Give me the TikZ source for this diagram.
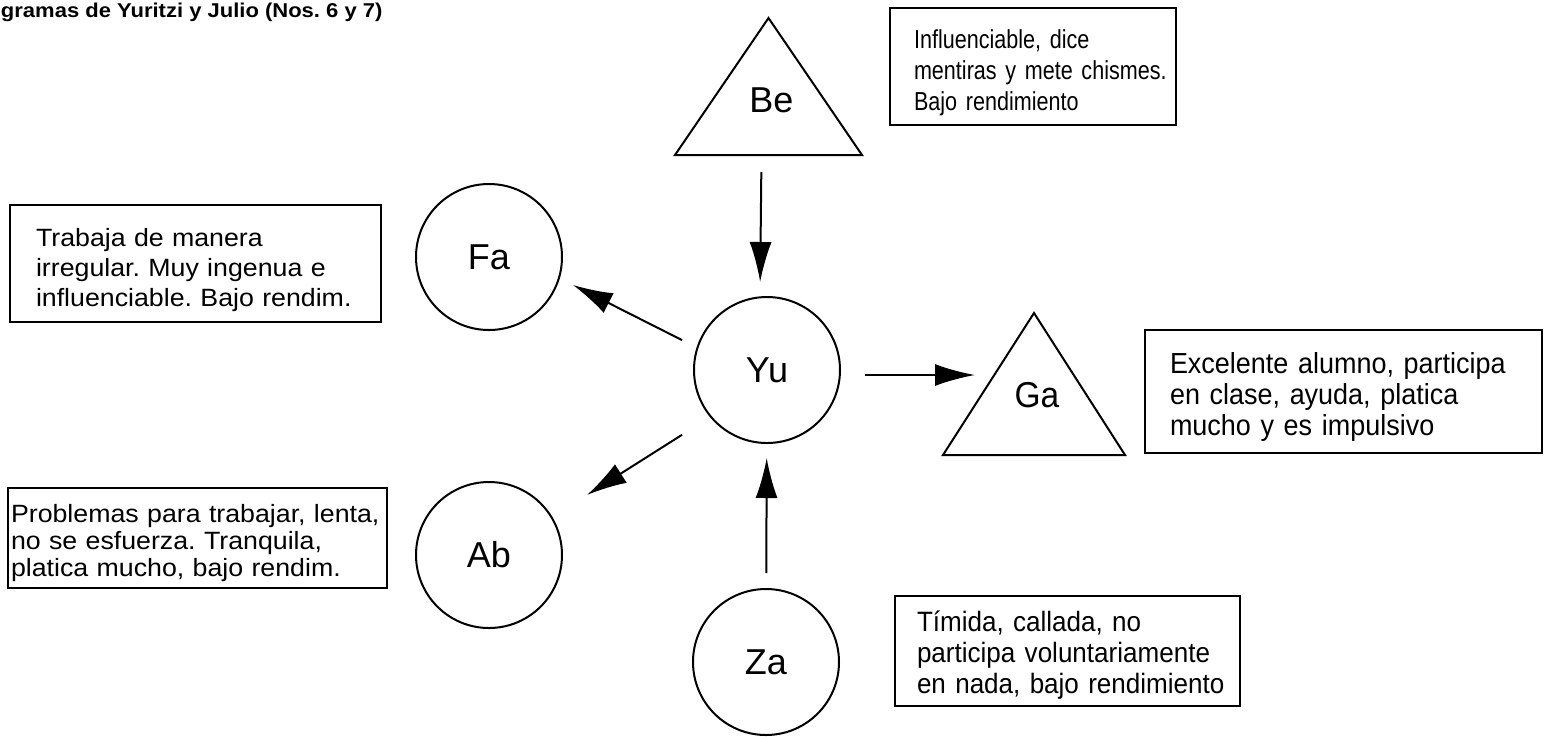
\documentclass[tikz,border=0pt]{standalone}
\usepackage{fontspec}
\setmainfont{Liberation Sans}
\newfontfamily\narrowsans[FakeStretch=0.83]{Liberation Sans}
\newfontfamily\widesans[FakeStretch=1.07]{Liberation Sans}
\newfontfamily\tallsans[FakeStretch=0.93]{Liberation Sans}
\newfontfamily\titlesans[FakeStretch=1.1]{Liberation Sans}
\usetikzlibrary{arrows.meta}
\newcommand\noteline[1]{\mbox{#1}}

\begin{document}
\frenchspacing
\begin{tikzpicture}[x=0.5pt,y=-0.5pt,
  every node/.style={inner sep=0pt, outer sep=0pt},
  person/.style={circle, draw, line width=1pt, minimum size=73pt,
    font=\fontsize{18pt}{20pt}\selectfont},
  tribox/.style={rectangle, draw=none},
  trilabel/.style={font=\fontsize{18pt}{20pt}\selectfont},
  outline/.style={line width=1pt, line join=miter},
  note/.style={draw, line width=1pt, anchor=north west, align=left,
    inner ysep=0pt},
  arr/.style={line width=1pt, -{Latex[length=20pt,width=11pt]}},
]
\useasboundingbox (0,0) rectangle (1544,736);

% title
\node[anchor=west, font=\titlesans\bfseries\fontsize{10pt}{12pt}\selectfont]
  (title) at (1,12) {gramas de Yuritzi y Julio (Nos. 6 y 7)};

% circles
\node[person] (yu) at (767,370) {Yu};
\node[person] (fa) at (489,257) {Fa};
\node[person] (ab) at (489,555) {Ab};
\node[person] (za) at (766,662) {Za};

% triangles
\node[tribox, minimum width=93.5pt, minimum height=68.5pt] (be) at (768.5,86.5) {};
\draw[outline] (be.north) -- (be.south west) -- (be.south east) -- cycle;
\node[trilabel] (belabel) at ([xshift=1.5pt,yshift=-6.75pt]be.center) {Be};

\node[tribox, minimum width=91pt, minimum height=71pt] (ga) at (1034,384) {};
\draw[outline] (ga.north) -- (ga.south west) -- (ga.south east) -- cycle;
\node[trilabel, font=\tallsans\fontsize{18pt}{20pt}\selectfont] (galabel)
  at ([xshift=1.5pt,yshift=-5.5pt]ga.center) {Ga};

% description boxes
\node[note, minimum width=143pt, minimum height=58.5pt, text width=119pt,
  inner xsep=12pt, text height=15.5pt,
  font=\narrowsans\fontsize{13pt}{15.5pt}\selectfont]
  (benote) at (890,8)
  {\noteline{Influenciable, dice}\\\noteline{mentiras y mete chismes.}\\\noteline{Bajo rendimiento}};

\node[note, minimum width=185.5pt, minimum height=58.5pt, text width=159.5pt,
  inner xsep=13pt, text height=16pt,
  font=\widesans\fontsize{12.5pt}{15pt}\selectfont]
  (fanote) at (10,205)
  {\noteline{Trabaja de manera}\\\noteline{irregular. Muy ingenua e}\\\noteline{influenciable. Bajo rendim.}};

\node[note, minimum width=189.5pt, minimum height=50pt, text width=186.5pt,
  inner xsep=1.5pt, text height=14pt,
  font=\widesans\fontsize{12.5pt}{13.5pt}\selectfont]
  (abnote) at (8,488)
  {\noteline{Problemas para trabajar, lenta,}\\\noteline{no se esfuerza. Tranquila,}\\\noteline{platica mucho, bajo rendim.}};

\node[note, minimum width=198.5pt, minimum height=61.5pt, text width=173.5pt,
  inner xsep=12.5pt, text height=15.5pt,
  font=\tallsans\fontsize{14.5pt}{15.5pt}\selectfont]
  (ganote) at (1145,330)
  {\noteline{Excelente alumno, participa}\\\noteline{en clase, ayuda, platica}\\\noteline{mucho y es impulsivo}};

\node[note, minimum width=172.5pt, minimum height=55pt, text width=150.5pt,
  inner xsep=11pt, text height=14.7pt,
  font=\tallsans\fontsize{14pt}{15.5pt}\selectfont]
  (zanote) at (895,596)
  {\noteline{Tímida, callada, no}\\\noteline{participa voluntariamente}\\\noteline{en nada, bajo rendimiento}};

% connectors
\draw[arr, shorten <=8.5pt, shorten >=7.5pt]
  ([xshift=-3.5pt]be.south) -- ([xshift=-3.5pt]yu.north);
\draw[arr, shorten <=47.6pt, shorten >=47pt]
  ([yshift=-6.5pt]yu.center) -- ([yshift=7.2pt]fa.center);
\draw[arr, shorten <=50.3pt, shorten >=58pt]
  ([yshift=-5.5pt]yu.center) -- ([yshift=-1pt]ab.center);
\draw[arr, shorten <=12.5pt, shorten >=-16pt]
  ([yshift=-2.5pt]yu.east) -- ([yshift=4.5pt]ga.west);
\draw[arr, shorten <=8pt, shorten >=7.5pt] (za) -- (yu);
\end{tikzpicture}
\end{document}
